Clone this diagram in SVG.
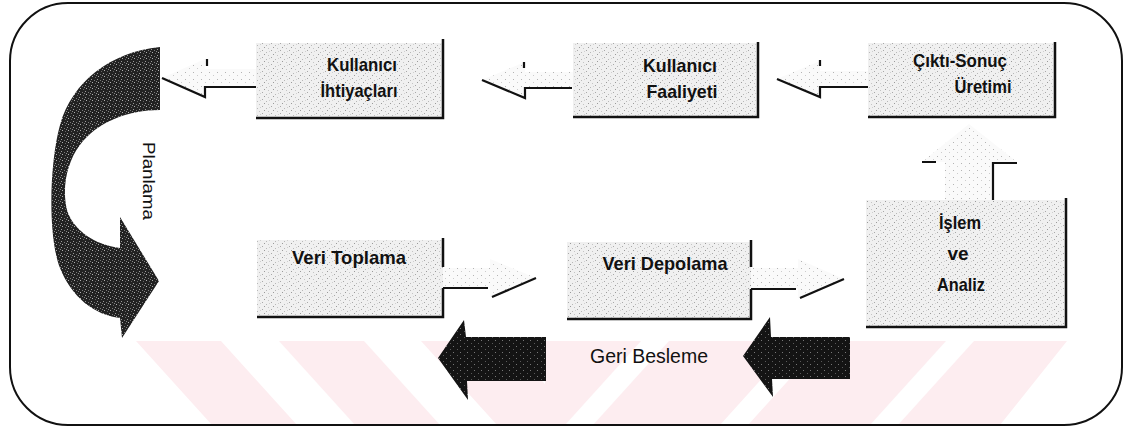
<svg xmlns="http://www.w3.org/2000/svg" width="1124" height="430" viewBox="0 0 1124 430">
  <defs>
    <pattern id="stip" width="9" height="7" patternUnits="userSpaceOnUse">
      <rect width="9" height="7" fill="#f0f0f0"/>
      <rect x="1" y="1" width="1" height="1" fill="#a8a8a8"/>
      <rect x="5" y="3" width="1" height="1" fill="#b8b8b8"/>
      <rect x="3" y="5" width="1" height="1" fill="#9a9a9a"/>
      <rect x="7" y="6" width="1" height="1" fill="#c4c4c4"/>
      <rect x="8" y="2" width="1" height="1" fill="#cfcfcf"/>
    </pattern>
    <pattern id="stip2" width="8" height="7" patternUnits="userSpaceOnUse">
      <rect width="8" height="7" fill="#fafafa"/>
      <rect x="1" y="2" width="1" height="1" fill="#b4b4b4"/>
      <rect x="5" y="5" width="1" height="1" fill="#cccccc"/>
    </pattern>
    <pattern id="dark" width="7" height="6" patternUnits="userSpaceOnUse">
      <rect width="7" height="6" fill="#141414"/>
      <rect x="2" y="1" width="1" height="1" fill="#5a5a5a"/>
      <rect x="5" y="4" width="1" height="1" fill="#777"/>
    </pattern>
    <pattern id="curv" width="6" height="6" patternUnits="userSpaceOnUse">
      <rect width="6" height="6" fill="#222"/>
      <rect x="1" y="1" width="1" height="1" fill="#9a9a9a"/>
      <rect x="4" y="2" width="1" height="1" fill="#7a7a7a"/>
      <rect x="2" y="4" width="1" height="1" fill="#b0b0b0"/>
      <rect x="5" y="5" width="1" height="1" fill="#666"/>
      <rect x="0" y="3" width="1" height="1" fill="#888"/>
    </pattern>
    <clipPath id="frameClip">
      <rect x="10" y="3" width="1112" height="422" rx="58" ry="58"/>
    </clipPath>
  </defs>
  <style>
    .lbl { font-family: "Liberation Sans", Arial, sans-serif; font-weight: bold; font-size: 19px; fill: #111; text-anchor: middle; }
    .plain { font-family: "Liberation Sans", Arial, sans-serif; font-size: 20px; fill: #111; text-anchor: middle; }
    .box { fill: url(#stip); }
    .edge { fill: none; stroke: #111; stroke-width: 2.5; }
    .arr { fill: url(#stip2); }
    .aedge { fill: none; stroke: #111; stroke-width: 2.2; }
    .pink { fill: #fdedf0; }
  </style>

  <rect width="1124" height="430" fill="#ffffff"/>

  <!-- watermark -->
  <g id="watermark" clip-path="url(#frameClip)">
    <polygon class="pink" points="136,341 221,341 297,425 212,425"/>
    <polygon class="pink" points="279,341 364,341 440,425 355,425"/>
    <polygon class="pink" points="421,341 506,341 582,425 497,425"/>
    <polygon class="pink" points="545,341 1067,341 1000,425 545,425"/>
    <polygon fill="#ffffff" points="641,341 669,341 593,425 565,425"/>
    <polygon fill="#ffffff" points="796,341 824,341 748,425 720,425"/>
    <polygon fill="#ffffff" points="946,341 974,341 898,425 870,425"/>
  </g>

  <!-- frame -->
  <rect x="10" y="3" width="1112" height="422" rx="58" ry="58" fill="none" stroke="#111" stroke-width="2"/>

  <!-- connectors -->
  <g id="connectors">
    <g id="c-ihtiyac-planlama">
      <polygon class="arr" points="162,78 205,59 205,69 256,69 256,87 205,87 205,97"/>
      <path class="aedge" d="M256,87 L205,87 L205,97 L162,78 M207,59 L207,66"/>
    </g>
    <g id="c-faaliyet-ihtiyac">
      <polygon class="arr" points="482,80 525,62 525,72 573,72 573,88 525,88 525,98"/>
      <path class="aedge" d="M572,88 L525,88 L525,98 L482,80 M524,62 L524,68"/>
    </g>
    <g id="c-cikti-faaliyet">
      <polygon class="arr" points="777,79 820,61 820,71 868,71 868,87 820,87 820,97"/>
      <path class="aedge" d="M868,87 L820,87 L820,97 L777,79 M820,60 L820,66"/>
    </g>
    <g id="c-islem-cikti">
      <polygon class="arr" points="945,200 945,162 922,162 969,124 1017,162 993,162 993,200"/>
      <path class="aedge" d="M922,162 L936,162 M993,200 L993,163 L1017,163" stroke-width="3"/>
    </g>
    <g id="c-toplama-depolama">
      <polygon class="arr" points="443,268 490,268 490,259 536,278 490,297 490,288 443,288"/>
      <path class="aedge" d="M443,288 L488,288 M492,297 L536,278"/>
    </g>
    <g id="c-depolama-islem">
      <polygon class="arr" points="751,268 798,268 798,259 844,279 798,298 798,289 751,289"/>
      <path class="aedge" d="M751,289 L796,289 M800,298 L844,279"/>
    </g>
    <g id="c-planlama">
      <path fill="url(#curv)" d="M160,47 L160,110 C128,110 97,122 80,145 C66,163 62,190 67,210 C73,230 95,245 120,248 L120,217 L159,281 L122,338 L120,318 C95,315 72,298 60,268 C48,238 49,165 60,125 C72,82 110,52 160,47 Z"/>
      <text transform="translate(143,181) rotate(90)" font-family="Liberation Sans, Arial, sans-serif" font-size="17" fill="#111" text-anchor="middle" textLength="78" lengthAdjust="spacingAndGlyphs">Planlama</text>
    </g>
    <g id="c-geri-besleme">
      <polygon fill="url(#dark)" points="438,358 464,320 466,337 546,337 546,381 467,381 468,400"/>
      <polygon fill="url(#dark)" points="743,356 770,317 771,337 850,337 850,379 772,379 773,397"/>
      <text class="plain" x="649" y="363" textLength="118" lengthAdjust="spacingAndGlyphs">Geri Besleme</text>
    </g>
  </g>

  <!-- nodes -->
  <g id="n-ihtiyac">
    <rect class="box" x="256" y="43" width="187" height="75"/>
    <path class="edge" d="M443,39 L443,118 L256,118"/>
    <text class="lbl" x="362" y="71" textLength="70" lengthAdjust="spacingAndGlyphs">Kullanıcı</text>
    <text class="lbl" x="359" y="97" textLength="77" lengthAdjust="spacingAndGlyphs">İhtiyaçları</text>
  </g>
  <g id="n-faaliyet">
    <rect class="box" x="573" y="43" width="185" height="74"/>
    <path class="edge" d="M758,42 L758,117 L573,117"/>
    <text class="lbl" x="680" y="72" textLength="74" lengthAdjust="spacingAndGlyphs">Kullanıcı</text>
    <text class="lbl" x="682" y="98" textLength="71" lengthAdjust="spacingAndGlyphs">Faaliyeti</text>
  </g>
  <g id="n-cikti">
    <rect class="box" x="868" y="43" width="187" height="74"/>
    <path class="edge" d="M1055,42 L1055,117 L868,117"/>
    <text class="lbl" x="960" y="67" textLength="94" lengthAdjust="spacingAndGlyphs">Çıktı-Sonuç</text>
    <text class="lbl" x="983" y="93" textLength="57" lengthAdjust="spacingAndGlyphs">Üretimi</text>
  </g>
  <g id="n-islem">
    <rect class="box" x="866" y="200" width="200" height="127"/>
    <path class="edge" d="M1066,198 L1066,327 L866,327"/>
    <text class="lbl" x="960" y="229" textLength="42" lengthAdjust="spacingAndGlyphs">İşlem</text>
    <text class="lbl" x="958" y="260">ve</text>
    <text class="lbl" x="961" y="291" textLength="48" lengthAdjust="spacingAndGlyphs">Analiz</text>
  </g>
  <g id="n-toplama">
    <rect class="box" x="257" y="240" width="186" height="77"/>
    <path class="edge" d="M443,238 L443,267 M443,288 L443,317 L257,317"/>
    <text class="lbl" x="349" y="264" textLength="114" lengthAdjust="spacingAndGlyphs">Veri Toplama</text>
  </g>
  <g id="n-depolama">
    <rect class="box" x="567" y="242" width="184" height="77"/>
    <path class="edge" d="M751,240 L751,267 M751,289 L751,319 L567,319"/>
    <text class="lbl" x="665" y="270" textLength="125" lengthAdjust="spacingAndGlyphs">Veri Depolama</text>
  </g>
</svg>
